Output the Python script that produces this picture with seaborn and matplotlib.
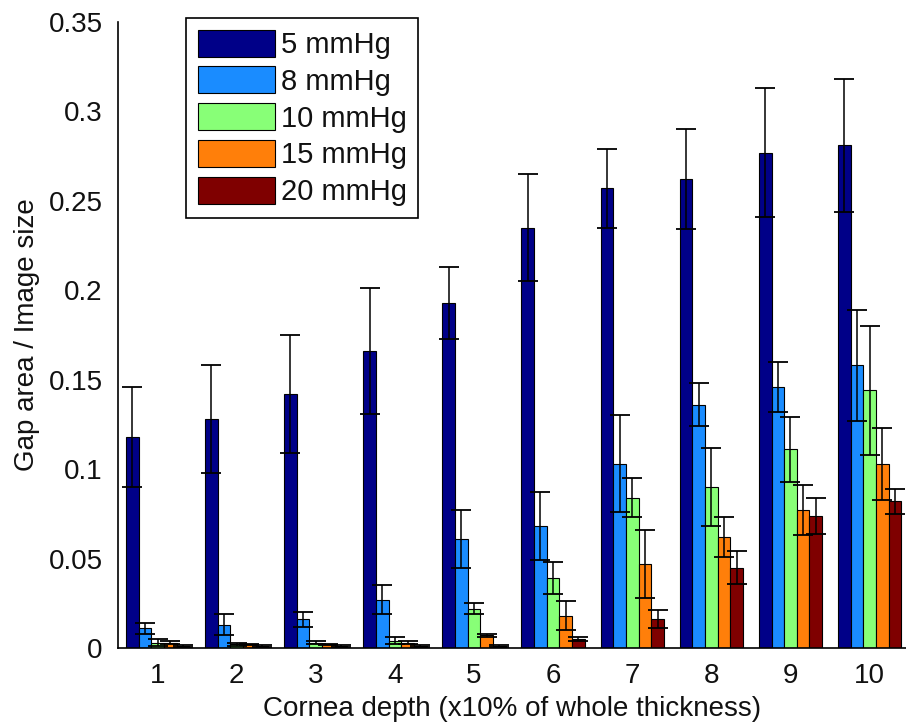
import pandas as pd
import matplotlib
matplotlib.use('Agg')
import matplotlib.pyplot as plt
import seaborn as sns

# data
depth = ['1', '2', '3', '4', '5', '6', '7', '8', '9', '10']
pressures = ['5 mmHg', '8 mmHg', '10 mmHg', '15 mmHg', '20 mmHg']

p5 = [0.118, 0.128, 0.142, 0.166, 0.193, 0.235, 0.257, 0.262, 0.277, 0.281]
p5_err = [0.028, 0.030, 0.033, 0.035, 0.020, 0.030, 0.022, 0.028, 0.036, 0.037]
p8 = [0.011, 0.013, 0.016, 0.027, 0.061, 0.068, 0.103, 0.136, 0.146, 0.158]
p8_err = [0.003, 0.006, 0.004, 0.008, 0.016, 0.019, 0.027, 0.012, 0.014, 0.031]
p10 = [0.003, 0.002, 0.003, 0.004, 0.022, 0.039, 0.084, 0.090, 0.111, 0.144]
p10_err = [0.002, 0.001, 0.001, 0.002, 0.003, 0.009, 0.011, 0.022, 0.018, 0.036]
p15 = [0.003, 0.002, 0.002, 0.003, 0.007, 0.018, 0.047, 0.062, 0.077, 0.103]
p15_err = [0.001, 0.0005, 0.0005, 0.001, 0.001, 0.008, 0.019, 0.011, 0.014, 0.020]
p20 = [0.001, 0.001, 0.001, 0.001, 0.001, 0.005, 0.016, 0.045, 0.074, 0.082]
p20_err = [0.0005, 0.0005, 0.0005, 0.0005, 0.0005, 0.001, 0.005, 0.009, 0.010, 0.007]

colors = ['#000088', '#1A8CFF', '#88FF77', '#FF7F0A', '#7F0000']

values = [p5, p8, p10, p15, p20]
errors = [p5_err, p8_err, p10_err, p15_err, p20_err]

# long form table for seaborn
rows = []
for name, vals in zip(pressures, values):
    for d, v in zip(depth, vals):
        rows.append({'depth': d, 'pressure': name, 'value': v})
df = pd.DataFrame(rows)

sns.set_theme(style='white')
plt.rcParams['font.family'] = ['Liberation Sans', 'DejaVu Sans']
fs = 20

fig = plt.figure(figsize=(9.06, 7.23), dpi=100)
ax = fig.add_axes([118 / 906, 75 / 723, 788 / 906, 626 / 723])

sns.barplot(data=df, x='depth', y='value', hue='pressure', order=depth,
            hue_order=pressures, palette=colors, errorbar=None, width=0.8,
            edgecolor='black', linewidth=0.8, saturation=1, ax=ax)

# symmetric error bars at the bar centres
for cont, errs in zip(ax.containers, errors):
    xs = [b.get_x() + b.get_width() / 2 for b in cont]
    ys = [b.get_height() for b in cont]
    ax.errorbar(xs, ys, yerr=errs, fmt='none', ecolor='black',
                elinewidth=1.1, capsize=7.5, capthick=1.3)

ax.set_xlim(-0.5, 9.46)
ax.set_ylim(0, 0.35)
ax.set_yticks([0, 0.05, 0.1, 0.15, 0.2, 0.25, 0.3, 0.35])
ax.set_yticklabels(['0', '0.05', '0.1', '0.15', '0.2', '0.25', '0.3', '0.35'])
ax.tick_params(axis='both', length=0, labelsize=fs, colors='#111111')
ax.tick_params(axis='y', pad=11)
ax.tick_params(axis='x', pad=11)
ax.set_xlabel('Cornea depth (x10% of whole thickness)', fontsize=fs, color='#111111', labelpad=5)
ax.set_ylabel('Gap area / Image size', fontsize=fs, color='#111111', labelpad=6)

sns.despine(ax=ax)
for s in ['left', 'bottom']:
    ax.spines[s].set_color('black')
    ax.spines[s].set_linewidth(1.2)

handles, labels = ax.get_legend_handles_labels()
leg = ax.legend(handles, labels, loc='upper left',
                bbox_to_anchor=(186 / 906, 1 - 18 / 723),
                bbox_transform=fig.transFigure, borderaxespad=0,
                fontsize=fs + 1, frameon=True, fancybox=False, shadow=False,
                handlelength=2.65, handleheight=1.05, handletextpad=0.2,
                labelspacing=0.25, borderpad=0.4, labelcolor='#111111')
leg.get_frame().set_edgecolor('black')
leg.get_frame().set_linewidth(1.2)
leg.get_frame().set_alpha(1)

fig.savefig('out.png', dpi=100)
